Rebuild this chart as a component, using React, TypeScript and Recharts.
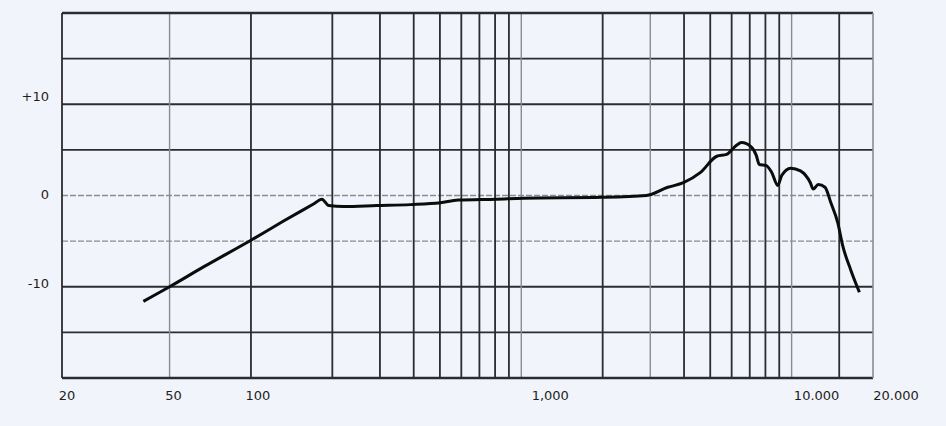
import { LineChart, Line, XAxis, YAxis, ReferenceLine } from "recharts"

// frequency response (Hz / dB)
const freqs = [
    40, 50, 67, 100, 132, 171, 183, 194, 220, 292, 389, 502, 584, 809, 1017,
    1990, 2900, 3480, 3980, 4590, 5290, 5750, 6250, 6520, 7100, 7400, 7590,
    8040, 8450, 8890, 9190, 9920, 10780, 11730, 12020, 12540, 13290, 13970,
    14820, 15450, 16520, 17810,
]
const levels = [
    -11.6, -10.0, -7.8, -4.9, -2.8, -0.9, -0.4, -1.1, -1.2, -1.1, -1.0, -0.8, -0.5, -0.4, -0.3,
    -0.2, 0, 0.9, 1.4, 2.5, 4.3, 4.5, 5.5, 5.8, 5.3, 4.4, 3.4,
    3.3, 2.5, 1.1, 2.2, 3.0, 2.7, 1.4, 0.7, 1.2, 0.9, -0.8,
    -3.0, -5.5, -8.1, -10.6,
]

const freqTicks = [20, 50, 100, 1000, 10000, 20000]
const freqLabels = ["20", "50", "100", "1,000", "10.000", "20.000"]
const dbTicks = [-10, 0, 10]
const dbLabels = ["-10", "0", "+10"]

const gridFreqs = [50, 100, 200, 300, 400, 500, 600, 700, 800, 900, 1000, 2000, 3000, 4000, 5000, 6000, 7000, 8000, 9000, 10000, 15000]
const gridLevels = [-15, -10, -5, 0, 5, 10, 15]

const data = freqs.map((f, i) => ({ f, db: levels[i] }))

// the printed labels sit a little right of their lines
const labelShift: Record<number, number> = { 20: 5, 50: 4, 100: 7, 1000: 29, 10000: 25, 20000: 23 }
const lightFreqs = [50, 1000, 3000, 10000]
const lightLevels = [0, -5]

const ink = "#2c2c30"
const faint = "#8a8c92"

const FreqTick = (props: any) => {
    const { x, y, payload } = props
    const i = freqTicks.indexOf(payload.value)
    return (
        <text x={x + (labelShift[payload.value] || 0)} y={y} dy={14} textAnchor="middle"
            fontFamily="DejaVu Sans" fontSize={13} fill="#1e1e22">
            {freqLabels[i]}
        </text>
    )
}

const DbTick = (props: any) => {
    const { y, payload } = props
    const i = dbTicks.indexOf(payload.value)
    const lift = payload.value === 10 ? -8 : payload.value === 0 ? -2 : -4
    return (
        <text x={49} y={y + lift} dy={5} textAnchor="end"
            fontFamily="DejaVu Sans" fontSize={13} fill="#1e1e22">
            {dbLabels[i]}
        </text>
    )
}

export default function App() {
    return (
        <div style={{ position: "absolute", left: 0, top: 0, width: 946, height: 426, background: "#f1f4fa" }}>
            <LineChart width={946} height={426} data={data} margin={{ top: 13, right: 73, left: 0, bottom: 0 }}>
                <XAxis dataKey="f" type="number" scale="log" domain={[20, 20000]} ticks={freqTicks}
                    allowDataOverflow axisLine={false} tickLine={false} height={48} tick={<FreqTick />} />
                <YAxis type="number" domain={[-20, 20]} ticks={dbTicks} allowDataOverflow
                    axisLine={false} tickLine={false} width={62} tick={<DbTick />} />
                {gridLevels.map((v) => (
                    <ReferenceLine key={`h${v}`} y={v}
                        stroke={lightLevels.includes(v) ? faint : ink}
                        strokeWidth={lightLevels.includes(v) ? 1.4 : 1.8}
                        strokeDasharray={lightLevels.includes(v) ? "6 2" : undefined} />
                ))}
                {gridFreqs.map((f) => (
                    <ReferenceLine key={`v${f}`} x={f}
                        stroke={lightFreqs.includes(f) ? faint : ink}
                        strokeWidth={lightFreqs.includes(f) ? 1.4 : 1.8} />
                ))}
                <ReferenceLine y={20} stroke={ink} strokeWidth={2.4} />
                <ReferenceLine y={-20} stroke={ink} strokeWidth={2.4} />
                <ReferenceLine x={20} stroke={ink} strokeWidth={1.8} />
                <ReferenceLine x={20000} stroke={faint} strokeWidth={1.6} />
                <Line dataKey="db" type="monotone" stroke="#0c0c0c" strokeWidth={3} dot={false}
                    isAnimationActive={false} />
            </LineChart>
        </div>
    )
}
